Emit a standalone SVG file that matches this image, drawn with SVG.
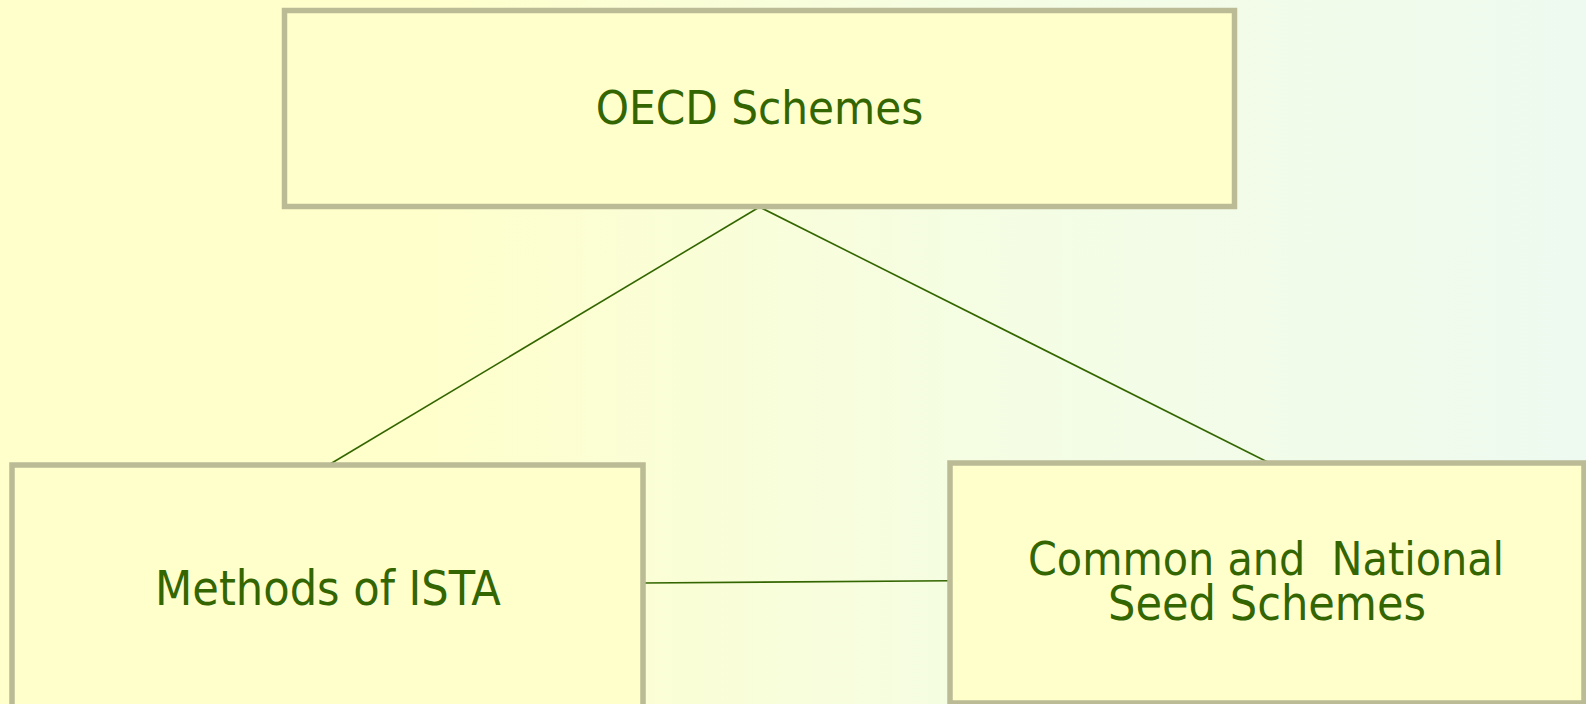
<svg xmlns="http://www.w3.org/2000/svg" width="1586" height="704" viewBox="0 0 1586 704">
<style>
.box{fill:#ffffcc;stroke:#bbbb96;stroke-width:5.5}
.lbl{font-family:"DejaVu Sans Condensed","DejaVu Sans",sans-serif;font-stretch:condensed;font-size:48px;fill:#336600;text-anchor:middle}
.conn{stroke:#336600;stroke-width:1.6;fill:none}
</style>
<defs>
<linearGradient id="bg" x1="0" y1="0" x2="1" y2="0">
<stop offset="0.27" stop-color="#ffffcc"/>
<stop offset="0.6" stop-color="#f5fde2"/>
<stop offset="1" stop-color="#eefaf0"/>
</linearGradient>
</defs>
<rect x="0" y="0" width="1586" height="704" fill="url(#bg)"/>
<g id="connectors">
<line class="conn" x1="759.5" y1="207" x2="328.5" y2="465"/>
<line class="conn" x1="759.5" y1="207" x2="1267.5" y2="462"/>
<line class="conn" x1="643" y1="583" x2="950" y2="580.7"/>
</g>
<g id="oecd">
<rect class="box" x="284.5" y="10.5" width="950" height="196"/>
<text class="lbl" x="759.5" y="124" style="font-size:47px">OECD Schemes</text>
</g>
<g id="ista">
<rect class="box" x="12" y="465" width="631" height="260"/>
<text class="lbl" x="328" y="605">Methods of ISTA</text>
</g>
<g id="seed">
<rect class="box" x="950" y="463" width="634" height="240"/>
<text class="lbl" xml:space="preserve"><tspan x="1266" y="575" style="font-size:46px">Common and  National</tspan><tspan x="1267" y="620">Seed Schemes</tspan></text>
</g>
</svg>
